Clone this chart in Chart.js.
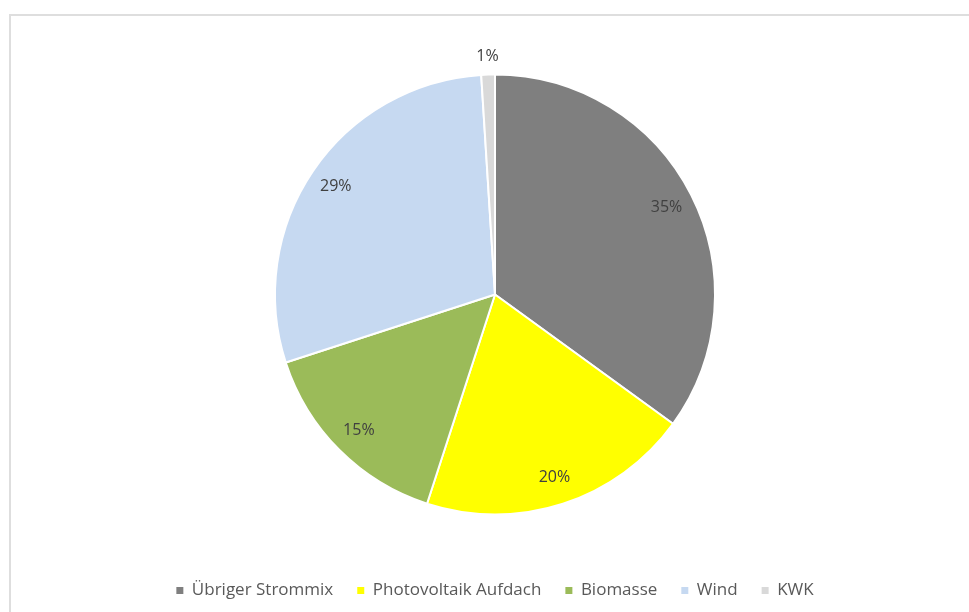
<!DOCTYPE html>
<html>
<head>
<meta charset="utf-8">
<script src="https://cdn.jsdelivr.net/npm/chart.js@4.4.1/dist/chart.umd.min.js"></script>
<style>
  html, body { margin: 0; padding: 0; background: #fff; overflow: hidden; }
  #wrap { position: relative; width: 969px; height: 612px; }
  #frame { position: absolute; left: 9px; top: 14px; width: 980px; height: 620px;
           border-left: 2px solid #dedede; border-top: 2px solid #dedede; }
  canvas { position: absolute; left: 0; top: 0; }
</style>
</head>
<body>
<div id="wrap">
  <div id="frame"></div>
  <canvas id="myChart" width="969" height="612"></canvas>
</div>
<script>
var categories = ["Übriger Strommix", "Photovoltaik Aufdach", "Biomasse", "Wind", "KWK"];
var shares = [35, 20, 15, 29, 1];
var pctLabels = ["35%", "20%", "15%", "29%", "1%"];
var colors = ["#7f7f7f", "#ffff00", "#9bbb59", "#c6d9f1", "#d9d9d9"];

// labels inside the slices, small ones outside
var sliceLabels = {
    id: "sliceLabels",
    afterDatasetsDraw: function(chart){
        var ctx = chart.ctx;
        var meta = chart.getDatasetMeta(0);
        ctx.save();
        ctx.font = "16px 'Open Sans'";
        ctx.fillStyle = "#404040";
        ctx.textAlign = "center";
        ctx.textBaseline = "middle";
        meta.data.forEach(function(arc, i){
            var mid = (arc.startAngle + arc.endAngle) / 2;
            var r = shares[i] < 5 ? arc.outerRadius + 18 : arc.outerRadius * 0.875;
            ctx.fillText(pctLabels[i], arc.x + Math.cos(mid) * r, arc.y + Math.sin(mid) * r);
        });
        ctx.restore();
    }
};

var ctx = document.getElementById("myChart").getContext("2d");
var myChart = new Chart(ctx, {
    type: "pie",
    data: {
        labels: categories,
        datasets: [{
            data: shares,
            backgroundColor: colors,
            borderColor: "#ffffff",
            borderWidth: 2
        }]
    },
    options: {
        responsive: false,
        animation: false,
        radius: 220,
        layout: { padding: { top: 31, bottom: 3, left: 21, right: 0 } },
        plugins: {
            tooltip: { enabled: false },
            legend: {
                position: "bottom",
                labels: {
                    boxWidth: 7,
                    boxHeight: 7,
                    padding: 24,
                    color: "#595959",
                    font: { family: "'Open Sans'", size: 17 },
                    generateLabels: function(chart){
                        var items = Chart.controllers.pie.overrides.plugins.legend.labels.generateLabels(chart);
                        items.forEach(function(it){ it.lineWidth = 0; });
                        return items;
                    }
                }
            }
        }
    },
    plugins: [sliceLabels]
});
</script>
</body>
</html>
